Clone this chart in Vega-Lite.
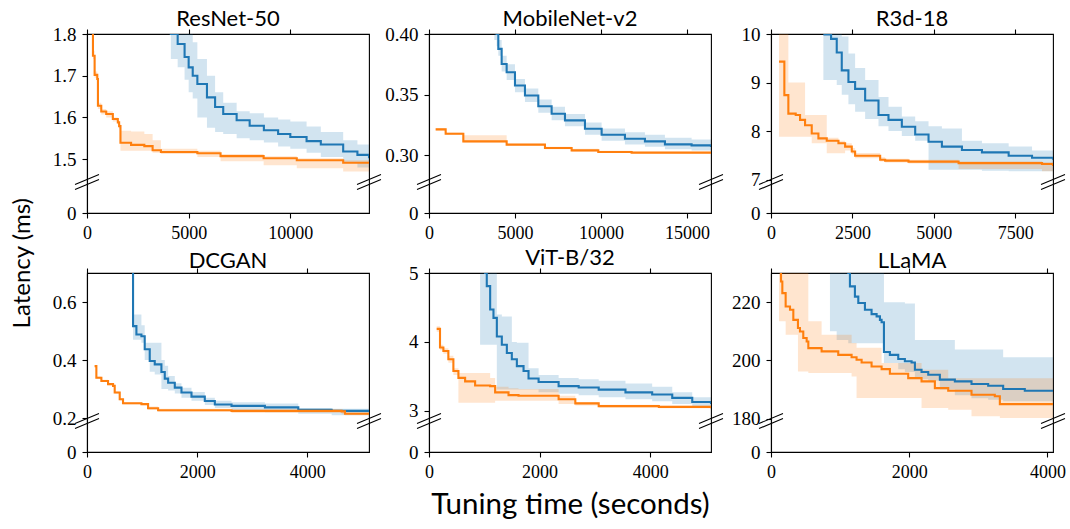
{
  "$schema": "https://vega.github.io/schema/vega-lite/v6.json",
  "background": "white",
  "padding": {"left": 10, "top": 7, "right": 5, "bottom": 5},
  "bounds": "flush",
  "columns": 3,
  "spacing": {"row": 60, "column": 60},
  "title": {"text": "Latency (ms)", "orient": "left", "anchor": "middle", "fontSize": 24, "font": "Lato", "fontWeight": "normal", "offset": 17},
  "concat": [
    {
      "title": "ResNet-50",
      "width": 282, "height": 179,
      "data": {"values": [
        {"s":"A","x":3716,"y":1.95,"lo":1.80,"hi":2.0},
        {"s":"A","x":4124,"y":1.80,"lo":1.74,"hi":1.90},
        {"s":"A","x":4460,"y":1.776,"lo":1.72,"hi":1.85},
        {"s":"A","x":4800,"y":1.745,"lo":1.69,"hi":1.83},
        {"s":"A","x":5000,"y":1.72,"lo":1.66,"hi":1.80},
        {"s":"A","x":5200,"y":1.70,"lo":1.645,"hi":1.78},
        {"s":"A","x":5428,"y":1.68,"lo":1.60,"hi":1.74},
        {"s":"A","x":5900,"y":1.648,"lo":1.575,"hi":1.70},
        {"s":"A","x":6300,"y":1.625,"lo":1.565,"hi":1.66},
        {"s":"A","x":6700,"y":1.608,"lo":1.56,"hi":1.635},
        {"s":"A","x":7360,"y":1.593,"lo":1.55,"hi":1.615},
        {"s":"A","x":8000,"y":1.58,"lo":1.545,"hi":1.61},
        {"s":"A","x":8700,"y":1.569,"lo":1.54,"hi":1.60},
        {"s":"A","x":9400,"y":1.56,"lo":1.53,"hi":1.595},
        {"s":"A","x":10000,"y":1.553,"lo":1.525,"hi":1.59},
        {"s":"A","x":10800,"y":1.543,"lo":1.515,"hi":1.578},
        {"s":"A","x":11500,"y":1.535,"lo":1.505,"hi":1.565},
        {"s":"A","x":12600,"y":1.518,"lo":1.49,"hi":1.545},
        {"s":"A","x":13300,"y":1.51,"lo":1.48,"hi":1.535},
        {"s":"A","x":13870,"y":1.502,"lo":1.47,"hi":1.53},
        {"s":"B","x":200,"y":1.85,"lo":1.80,"hi":1.90},
        {"s":"B","x":293,"y":1.748,"lo":1.74,"hi":1.76},
        {"s":"B","x":375,"y":1.702,"lo":1.695,"hi":1.71},
        {"s":"B","x":505,"y":1.692,"lo":1.685,"hi":1.70},
        {"s":"B","x":538,"y":1.628,"lo":1.62,"hi":1.635},
        {"s":"B","x":701,"y":1.614,"lo":1.607,"hi":1.62},
        {"s":"B","x":945,"y":1.608,"lo":1.60,"hi":1.615},
        {"s":"B","x":1271,"y":1.596,"lo":1.59,"hi":1.60},
        {"s":"B","x":1516,"y":1.588,"lo":1.582,"hi":1.593},
        {"s":"B","x":1580,"y":1.579,"lo":1.573,"hi":1.585},
        {"s":"B","x":1646,"y":1.539,"lo":1.52,"hi":1.568},
        {"s":"B","x":2168,"y":1.534,"lo":1.52,"hi":1.566},
        {"s":"B","x":2820,"y":1.531,"lo":1.52,"hi":1.56},
        {"s":"B","x":3227,"y":1.521,"lo":1.515,"hi":1.545},
        {"s":"B","x":3635,"y":1.517,"lo":1.512,"hi":1.525},
        {"s":"B","x":5428,"y":1.514,"lo":1.505,"hi":1.52},
        {"s":"B","x":6569,"y":1.507,"lo":1.495,"hi":1.512},
        {"s":"B","x":8688,"y":1.502,"lo":1.485,"hi":1.507},
        {"s":"B","x":10318,"y":1.497,"lo":1.478,"hi":1.502},
        {"s":"B","x":12600,"y":1.491,"lo":1.47,"hi":1.497},
        {"s":"B","x":13870,"y":1.491,"lo":1.47,"hi":1.497}
      ]},
      "resolve": {"axis": {"x": "independent"}},
      "layer": [
        {"mark": {"type": "area", "interpolate": "step-after", "opacity": 0.2, "clip": true},
         "encoding": {
           "x": {"field": "x", "type": "quantitative", "scale": {"domain": [0, 13870], "nice": false, "zero": false}, "axis": null},
           "y": {"field": "lo", "type": "quantitative", "stack": null, "scale": {"domain": [0, 1.445, 1.8], "range": [179, 148, 0], "nice": false, "zero": false}, "axis": {"values": [0, 1.5, 1.6, 1.7, 1.8], "labelExpr": "datum.value == 0 ? '0' : format(datum.value, '.1f')", "title": null}},
           "y2": {"field": "hi"},
           "color": {"field": "s", "type": "nominal", "scale": {"domain": ["A", "B"], "range": ["#1f77b4", "#ff7f0e"]}, "legend": null}}},
        {"mark": {"type": "line", "interpolate": "step-after", "strokeWidth": 2.1, "clip": true},
         "encoding": {
           "x": {"field": "x", "type": "quantitative", "scale": {"domain": [0, 13870], "nice": false, "zero": false}, "axis": {"orient": "bottom", "values": [0, 5000, 10000], "format": "d", "title": null}},
           "y": {"field": "y", "type": "quantitative", "scale": {"domain": [0, 1.445, 1.8], "range": [179, 148, 0], "nice": false, "zero": false}, "axis": {"values": [0, 1.5, 1.6, 1.7, 1.8], "labelExpr": "datum.value == 0 ? '0' : format(datum.value, '.1f')", "title": null}},
           "color": {"field": "s", "type": "nominal", "scale": {"domain": ["A", "B"], "range": ["#1f77b4", "#ff7f0e"]}, "legend": null}}},
        {"data": {"values": [{"x": 0, "y": 1.445}, {"x": 13870, "y": 1.445}]},
         "mark": {"type": "point", "shape": "M-1,0.21L1,-0.63M-1,0.63L1,-0.21", "size": 576, "filled": false, "color": "black", "strokeWidth": 1.1, "opacity": 1, "clip": false},
         "encoding": {
           "x": {"field": "x", "type": "quantitative", "scale": {"domain": [0, 13870], "nice": false, "zero": false}, "axis": {"orient": "top", "values": [0, 5000, 10000], "labels": false, "domain": false, "title": null}},
           "y": {"field": "y", "type": "quantitative", "scale": {"domain": [0, 1.445, 1.8], "range": [179, 148, 0], "nice": false, "zero": false}, "axis": {"values": [0, 1.5, 1.6, 1.7, 1.8], "labelExpr": "datum.value == 0 ? '0' : format(datum.value, '.1f')", "title": null}}}}
      ]
    },
    {
      "title": "MobileNet-v2",
      "width": 282, "height": 179,
      "data": {"values": [
        {"s":"A","x":3800,"y":0.42,"lo":0.395,"hi":0.44},
        {"s":"A","x":3934,"y":0.40,"lo":0.39,"hi":0.42},
        {"s":"A","x":4031,"y":0.3877,"lo":0.382,"hi":0.395},
        {"s":"A","x":4225,"y":0.3753,"lo":0.369,"hi":0.382},
        {"s":"A","x":4516,"y":0.3685,"lo":0.362,"hi":0.375},
        {"s":"A","x":5000,"y":0.3575,"lo":0.352,"hi":0.363},
        {"s":"A","x":5581,"y":0.3493,"lo":0.344,"hi":0.355},
        {"s":"A","x":6357,"y":0.3405,"lo":0.335,"hi":0.346},
        {"s":"A","x":7132,"y":0.3342,"lo":0.329,"hi":0.340},
        {"s":"A","x":7907,"y":0.3288,"lo":0.324,"hi":0.334},
        {"s":"A","x":9070,"y":0.3219,"lo":0.317,"hi":0.327},
        {"s":"A","x":10039,"y":0.317,"lo":0.312,"hi":0.322},
        {"s":"A","x":11395,"y":0.3137,"lo":0.309,"hi":0.319},
        {"s":"A","x":12558,"y":0.3115,"lo":0.307,"hi":0.317},
        {"s":"A","x":13721,"y":0.309,"lo":0.305,"hi":0.3145},
        {"s":"A","x":15271,"y":0.3082,"lo":0.304,"hi":0.313},
        {"s":"A","x":16400,"y":0.3068,"lo":0.303,"hi":0.312},
        {"s":"B","x":388,"y":0.3214,"lo":0.3205,"hi":0.3225},
        {"s":"B","x":969,"y":0.3178,"lo":0.317,"hi":0.3188},
        {"s":"B","x":1996,"y":0.3115,"lo":0.3105,"hi":0.3165},
        {"s":"B","x":4516,"y":0.3088,"lo":0.308,"hi":0.3095},
        {"s":"B","x":6745,"y":0.306,"lo":0.305,"hi":0.307},
        {"s":"B","x":8295,"y":0.3041,"lo":0.303,"hi":0.3055},
        {"s":"B","x":9845,"y":0.3027,"lo":0.302,"hi":0.3038},
        {"s":"B","x":11783,"y":0.3022,"lo":0.3015,"hi":0.303},
        {"s":"B","x":16400,"y":0.3022,"lo":0.3015,"hi":0.303}
      ]},
      "resolve": {"axis": {"x": "independent"}},
      "layer": [
        {"mark": {"type": "area", "interpolate": "step-after", "opacity": 0.2, "clip": true},
         "encoding": {
           "x": {"field": "x", "type": "quantitative", "scale": {"domain": [0, 16400], "nice": false, "zero": false}, "axis": null},
           "y": {"field": "lo", "type": "quantitative", "stack": null, "scale": {"domain": [0, 0.278, 0.4], "range": [179, 148, 0], "nice": false, "zero": false}, "axis": {"values": [0, 0.3, 0.35, 0.4], "labelExpr": "datum.value == 0 ? '0' : format(datum.value, '.2f')", "title": null}},
           "y2": {"field": "hi"},
           "color": {"field": "s", "type": "nominal", "scale": {"domain": ["A", "B"], "range": ["#1f77b4", "#ff7f0e"]}, "legend": null}}},
        {"mark": {"type": "line", "interpolate": "step-after", "strokeWidth": 2.1, "clip": true},
         "encoding": {
           "x": {"field": "x", "type": "quantitative", "scale": {"domain": [0, 16400], "nice": false, "zero": false}, "axis": {"orient": "bottom", "values": [0, 5000, 10000, 15000], "format": "d", "title": null}},
           "y": {"field": "y", "type": "quantitative", "scale": {"domain": [0, 0.278, 0.4], "range": [179, 148, 0], "nice": false, "zero": false}, "axis": {"values": [0, 0.3, 0.35, 0.4], "labelExpr": "datum.value == 0 ? '0' : format(datum.value, '.2f')", "title": null}},
           "color": {"field": "s", "type": "nominal", "scale": {"domain": ["A", "B"], "range": ["#1f77b4", "#ff7f0e"]}, "legend": null}}},
        {"data": {"values": [{"x": 0, "y": 0.278}, {"x": 16400, "y": 0.278}]},
         "mark": {"type": "point", "shape": "M-1,0.21L1,-0.63M-1,0.63L1,-0.21", "size": 576, "filled": false, "color": "black", "strokeWidth": 1.1, "opacity": 1, "clip": false},
         "encoding": {
           "x": {"field": "x", "type": "quantitative", "scale": {"domain": [0, 16400], "nice": false, "zero": false}, "axis": {"orient": "top", "values": [0, 5000, 10000, 15000], "labels": false, "domain": false, "title": null}},
           "y": {"field": "y", "type": "quantitative", "scale": {"domain": [0, 0.278, 0.4], "range": [179, 148, 0], "nice": false, "zero": false}, "axis": {"values": [0, 0.3, 0.35, 0.4], "labelExpr": "datum.value == 0 ? '0' : format(datum.value, '.2f')", "title": null}}}}
      ]
    },
    {
      "title": "R3d-18",
      "width": 282, "height": 179,
      "data": {"values": [
        {"s":"A","x":1609,"y":9.99,"lo":9.05,"hi":10.5},
        {"s":"A","x":1845,"y":9.90,"lo":9.05,"hi":10.3},
        {"s":"A","x":2019,"y":9.62,"lo":8.95,"hi":10.1},
        {"s":"A","x":2173,"y":9.25,"lo":8.75,"hi":9.95},
        {"s":"A","x":2378,"y":9.01,"lo":8.55,"hi":9.6},
        {"s":"A","x":2583,"y":8.87,"lo":8.4,"hi":9.3},
        {"s":"A","x":2891,"y":8.63,"lo":8.25,"hi":9.05},
        {"s":"A","x":3301,"y":8.33,"lo":8.1,"hi":8.7},
        {"s":"A","x":3608,"y":8.23,"lo":8.0,"hi":8.5},
        {"s":"A","x":4018,"y":8.09,"lo":7.9,"hi":8.3},
        {"s":"A","x":4428,"y":7.93,"lo":7.8,"hi":8.2},
        {"s":"A","x":4838,"y":7.78,"lo":7.2,"hi":8.1},
        {"s":"A","x":5248,"y":7.68,"lo":7.2,"hi":8.05},
        {"s":"A","x":5863,"y":7.61,"lo":7.2,"hi":7.8},
        {"s":"A","x":6478,"y":7.56,"lo":7.18,"hi":7.75},
        {"s":"A","x":7298,"y":7.49,"lo":7.17,"hi":7.68},
        {"s":"A","x":8016,"y":7.45,"lo":7.17,"hi":7.6},
        {"s":"A","x":8660,"y":7.41,"lo":7.17,"hi":7.5},
        {"s":"B","x":246,"y":9.43,"lo":7.88,"hi":10.5},
        {"s":"B","x":410,"y":8.74,"lo":7.88,"hi":10.5},
        {"s":"B","x":533,"y":8.36,"lo":7.88,"hi":9.0},
        {"s":"B","x":759,"y":8.33,"lo":7.88,"hi":9.0},
        {"s":"B","x":892,"y":8.23,"lo":7.88,"hi":9.0},
        {"s":"B","x":1046,"y":8.12,"lo":7.88,"hi":8.33},
        {"s":"B","x":1251,"y":7.95,"lo":7.75,"hi":8.33},
        {"s":"B","x":1456,"y":7.85,"lo":7.75,"hi":8.33},
        {"s":"B","x":1712,"y":7.80,"lo":7.54,"hi":7.86},
        {"s":"B","x":2071,"y":7.75,"lo":7.54,"hi":7.80},
        {"s":"B","x":2276,"y":7.68,"lo":7.6,"hi":7.75},
        {"s":"B","x":2481,"y":7.58,"lo":7.52,"hi":7.65},
        {"s":"B","x":2583,"y":7.49,"lo":7.44,"hi":7.55},
        {"s":"B","x":3352,"y":7.41,"lo":7.37,"hi":7.46},
        {"s":"B","x":3506,"y":7.39,"lo":7.35,"hi":7.43},
        {"s":"B","x":4223,"y":7.37,"lo":7.33,"hi":7.41},
        {"s":"B","x":5761,"y":7.34,"lo":7.22,"hi":7.38},
        {"s":"B","x":8323,"y":7.32,"lo":7.17,"hi":7.36},
        {"s":"B","x":8660,"y":7.28,"lo":7.17,"hi":7.34}
      ]},
      "resolve": {"axis": {"x": "independent"}},
      "layer": [
        {"mark": {"type": "area", "interpolate": "step-after", "opacity": 0.2, "clip": true},
         "encoding": {
           "x": {"field": "x", "type": "quantitative", "scale": {"domain": [0, 8660], "nice": false, "zero": false}, "axis": null},
           "y": {"field": "lo", "type": "quantitative", "stack": null, "scale": {"domain": [0, 6.95, 10], "range": [179, 148, 0], "nice": false, "zero": false}, "axis": {"values": [0, 7, 8, 9, 10], "format": "d", "title": null}},
           "y2": {"field": "hi"},
           "color": {"field": "s", "type": "nominal", "scale": {"domain": ["A", "B"], "range": ["#1f77b4", "#ff7f0e"]}, "legend": null}}},
        {"mark": {"type": "line", "interpolate": "step-after", "strokeWidth": 2.1, "clip": true},
         "encoding": {
           "x": {"field": "x", "type": "quantitative", "scale": {"domain": [0, 8660], "nice": false, "zero": false}, "axis": {"orient": "bottom", "values": [0, 2500, 5000, 7500], "format": "d", "title": null}},
           "y": {"field": "y", "type": "quantitative", "scale": {"domain": [0, 6.95, 10], "range": [179, 148, 0], "nice": false, "zero": false}, "axis": {"values": [0, 7, 8, 9, 10], "format": "d", "title": null}},
           "color": {"field": "s", "type": "nominal", "scale": {"domain": ["A", "B"], "range": ["#1f77b4", "#ff7f0e"]}, "legend": null}}},
        {"data": {"values": [{"x": 0, "y": 6.95}, {"x": 8660, "y": 6.95}]},
         "mark": {"type": "point", "shape": "M-1,0.21L1,-0.63M-1,0.63L1,-0.21", "size": 576, "filled": false, "color": "black", "strokeWidth": 1.1, "opacity": 1, "clip": false},
         "encoding": {
           "x": {"field": "x", "type": "quantitative", "scale": {"domain": [0, 8660], "nice": false, "zero": false}, "axis": {"orient": "top", "values": [0, 2500, 5000, 7500], "labels": false, "domain": false, "title": null}},
           "y": {"field": "y", "type": "quantitative", "scale": {"domain": [0, 6.95, 10], "range": [179, 148, 0], "nice": false, "zero": false}, "axis": {"values": [0, 7, 8, 9, 10], "format": "d", "title": null}}}}
      ]
    },
    {
      "title": "DCGAN",
      "width": 282, "height": 179,
      "data": {"values": [
        {"s":"A","x":830,"y":0.75,"lo":0.75,"hi":0.75},
        {"s":"A","x":836,"y":0.517,"lo":0.47,"hi":0.557},
        {"s":"A","x":897,"y":0.488,"lo":0.47,"hi":0.557},
        {"s":"A","x":988,"y":0.482,"lo":0.46,"hi":0.52},
        {"s":"A","x":1048,"y":0.437,"lo":0.40,"hi":0.46},
        {"s":"A","x":1139,"y":0.397,"lo":0.36,"hi":0.46},
        {"s":"A","x":1230,"y":0.385,"lo":0.35,"hi":0.46},
        {"s":"A","x":1351,"y":0.359,"lo":0.30,"hi":0.40},
        {"s":"A","x":1412,"y":0.336,"lo":0.30,"hi":0.38},
        {"s":"A","x":1473,"y":0.322,"lo":0.295,"hi":0.345},
        {"s":"A","x":1594,"y":0.305,"lo":0.285,"hi":0.32},
        {"s":"A","x":1715,"y":0.288,"lo":0.27,"hi":0.305},
        {"s":"A","x":1897,"y":0.274,"lo":0.26,"hi":0.29},
        {"s":"A","x":2139,"y":0.259,"lo":0.245,"hi":0.27},
        {"s":"A","x":2321,"y":0.247,"lo":0.235,"hi":0.26},
        {"s":"A","x":2624,"y":0.242,"lo":0.225,"hi":0.255},
        {"s":"A","x":3230,"y":0.237,"lo":0.22,"hi":0.25},
        {"s":"A","x":3836,"y":0.229,"lo":0.215,"hi":0.235},
        {"s":"A","x":4442,"y":0.225,"lo":0.21,"hi":0.232},
        {"s":"A","x":5120,"y":0.222,"lo":0.21,"hi":0.23},
        {"s":"B","x":139,"y":0.379,"lo":0.375,"hi":0.383},
        {"s":"B","x":170,"y":0.339,"lo":0.335,"hi":0.343},
        {"s":"B","x":261,"y":0.328,"lo":0.324,"hi":0.332},
        {"s":"B","x":382,"y":0.317,"lo":0.313,"hi":0.321},
        {"s":"B","x":473,"y":0.311,"lo":0.307,"hi":0.315},
        {"s":"B","x":503,"y":0.288,"lo":0.284,"hi":0.292},
        {"s":"B","x":594,"y":0.265,"lo":0.261,"hi":0.269},
        {"s":"B","x":654,"y":0.251,"lo":0.247,"hi":0.255},
        {"s":"B","x":988,"y":0.248,"lo":0.244,"hi":0.252},
        {"s":"B","x":1109,"y":0.234,"lo":0.229,"hi":0.24},
        {"s":"B","x":1291,"y":0.227,"lo":0.222,"hi":0.232},
        {"s":"B","x":2624,"y":0.225,"lo":0.218,"hi":0.23},
        {"s":"B","x":4624,"y":0.223,"lo":0.213,"hi":0.227},
        {"s":"B","x":4684,"y":0.215,"lo":0.21,"hi":0.22},
        {"s":"B","x":5120,"y":0.215,"lo":0.21,"hi":0.22}
      ]},
      "resolve": {"axis": {"x": "independent"}},
      "layer": [
        {"mark": {"type": "area", "interpolate": "step-after", "opacity": 0.2, "clip": true},
         "encoding": {
           "x": {"field": "x", "type": "quantitative", "scale": {"domain": [0, 5120], "nice": false, "zero": false}, "axis": null},
           "y": {"field": "lo", "type": "quantitative", "stack": null, "scale": {"domain": [0, 0.19, 0.7], "range": [179, 148, 0], "nice": false, "zero": false}, "axis": {"values": [0, 0.2, 0.4, 0.6], "labelExpr": "datum.value == 0 ? '0' : format(datum.value, '.1f')", "title": null}},
           "y2": {"field": "hi"},
           "color": {"field": "s", "type": "nominal", "scale": {"domain": ["A", "B"], "range": ["#1f77b4", "#ff7f0e"]}, "legend": null}}},
        {"mark": {"type": "line", "interpolate": "step-after", "strokeWidth": 2.1, "clip": true},
         "encoding": {
           "x": {"field": "x", "type": "quantitative", "scale": {"domain": [0, 5120], "nice": false, "zero": false}, "axis": {"orient": "bottom", "values": [0, 2000, 4000], "format": "d", "title": null}},
           "y": {"field": "y", "type": "quantitative", "scale": {"domain": [0, 0.19, 0.7], "range": [179, 148, 0], "nice": false, "zero": false}, "axis": {"values": [0, 0.2, 0.4, 0.6], "labelExpr": "datum.value == 0 ? '0' : format(datum.value, '.1f')", "title": null}},
           "color": {"field": "s", "type": "nominal", "scale": {"domain": ["A", "B"], "range": ["#1f77b4", "#ff7f0e"]}, "legend": null}}},
        {"data": {"values": [{"x": 0, "y": 0.19}, {"x": 5120, "y": 0.19}]},
         "mark": {"type": "point", "shape": "M-1,0.21L1,-0.63M-1,0.63L1,-0.21", "size": 576, "filled": false, "color": "black", "strokeWidth": 1.1, "opacity": 1, "clip": false},
         "encoding": {
           "x": {"field": "x", "type": "quantitative", "scale": {"domain": [0, 5120], "nice": false, "zero": false}, "axis": {"orient": "top", "values": [0, 2000, 4000], "labels": false, "domain": false, "title": null}},
           "y": {"field": "y", "type": "quantitative", "scale": {"domain": [0, 0.19, 0.7], "range": [179, 148, 0], "nice": false, "zero": false}, "axis": {"values": [0, 0.2, 0.4, 0.6], "labelExpr": "datum.value == 0 ? '0' : format(datum.value, '.1f')", "title": null}}}}
      ]
    },
    {
      "title": "ViT-B/32",
      "width": 282, "height": 179,
      "data": {"values": [
        {"s":"A","x":924,"y":5.3,"lo":3.96,"hi":5.5},
        {"s":"A","x":1015,"y":5.0,"lo":3.96,"hi":5.5},
        {"s":"A","x":1045,"y":4.81,"lo":3.96,"hi":5.5},
        {"s":"A","x":1106,"y":4.47,"lo":3.96,"hi":5.2},
        {"s":"A","x":1166,"y":4.35,"lo":3.96,"hi":5.0},
        {"s":"A","x":1227,"y":4.08,"lo":3.31,"hi":4.4},
        {"s":"A","x":1317,"y":3.96,"lo":3.31,"hi":4.37},
        {"s":"A","x":1408,"y":3.84,"lo":3.31,"hi":4.37},
        {"s":"A","x":1498,"y":3.75,"lo":3.31,"hi":4.0},
        {"s":"A","x":1589,"y":3.65,"lo":3.31,"hi":3.99},
        {"s":"A","x":1710,"y":3.58,"lo":3.31,"hi":3.99},
        {"s":"A","x":1800,"y":3.47,"lo":3.31,"hi":3.62},
        {"s":"A","x":1982,"y":3.42,"lo":3.27,"hi":3.52},
        {"s":"A","x":2344,"y":3.36,"lo":3.25,"hi":3.48},
        {"s":"A","x":2707,"y":3.34,"lo":3.23,"hi":3.46},
        {"s":"A","x":3069,"y":3.31,"lo":3.2,"hi":3.44},
        {"s":"A","x":3553,"y":3.27,"lo":3.17,"hi":3.4},
        {"s":"A","x":4036,"y":3.24,"lo":3.14,"hi":3.35},
        {"s":"A","x":4399,"y":3.19,"lo":3.1,"hi":3.27},
        {"s":"A","x":4761,"y":3.13,"lo":3.05,"hi":3.2},
        {"s":"A","x":5100,"y":3.10,"lo":3.02,"hi":3.15},
        {"s":"B","x":139,"y":4.19,"lo":4.15,"hi":4.23},
        {"s":"B","x":199,"y":3.92,"lo":3.88,"hi":3.96},
        {"s":"B","x":260,"y":3.87,"lo":3.83,"hi":3.91},
        {"s":"B","x":350,"y":3.75,"lo":3.7,"hi":3.8},
        {"s":"B","x":441,"y":3.58,"lo":3.52,"hi":3.62},
        {"s":"B","x":532,"y":3.48,"lo":3.12,"hi":3.55},
        {"s":"B","x":653,"y":3.43,"lo":3.12,"hi":3.55},
        {"s":"B","x":834,"y":3.37,"lo":3.12,"hi":3.55},
        {"s":"B","x":1106,"y":3.36,"lo":3.12,"hi":3.48},
        {"s":"B","x":1196,"y":3.27,"lo":3.15,"hi":3.35},
        {"s":"B","x":1438,"y":3.23,"lo":3.15,"hi":3.33},
        {"s":"B","x":1619,"y":3.22,"lo":3.15,"hi":3.32},
        {"s":"B","x":2344,"y":3.17,"lo":3.1,"hi":3.22},
        {"s":"B","x":2646,"y":3.11,"lo":3.08,"hi":3.13},
        {"s":"B","x":3069,"y":3.07,"lo":3.05,"hi":3.09},
        {"s":"B","x":4157,"y":3.06,"lo":3.04,"hi":3.075},
        {"s":"B","x":5100,"y":3.04,"lo":3.02,"hi":3.06}
      ]},
      "resolve": {"axis": {"x": "independent"}},
      "layer": [
        {"mark": {"type": "area", "interpolate": "step-after", "opacity": 0.2, "clip": true},
         "encoding": {
           "x": {"field": "x", "type": "quantitative", "scale": {"domain": [0, 5100], "nice": false, "zero": false}, "axis": null},
           "y": {"field": "lo", "type": "quantitative", "stack": null, "scale": {"domain": [0, 2.855, 5], "range": [179, 148, 0], "nice": false, "zero": false}, "axis": {"values": [0, 3, 4, 5], "format": "d", "title": null}},
           "y2": {"field": "hi"},
           "color": {"field": "s", "type": "nominal", "scale": {"domain": ["A", "B"], "range": ["#1f77b4", "#ff7f0e"]}, "legend": null}}},
        {"mark": {"type": "line", "interpolate": "step-after", "strokeWidth": 2.1, "clip": true},
         "encoding": {
           "x": {"field": "x", "type": "quantitative", "scale": {"domain": [0, 5100], "nice": false, "zero": false}, "axis": {"orient": "bottom", "values": [0, 2000, 4000], "format": "d", "title": "Tuning time (seconds)"}},
           "y": {"field": "y", "type": "quantitative", "scale": {"domain": [0, 2.855, 5], "range": [179, 148, 0], "nice": false, "zero": false}, "axis": {"values": [0, 3, 4, 5], "format": "d", "title": null}},
           "color": {"field": "s", "type": "nominal", "scale": {"domain": ["A", "B"], "range": ["#1f77b4", "#ff7f0e"]}, "legend": null}}},
        {"data": {"values": [{"x": 0, "y": 2.855}, {"x": 5100, "y": 2.855}]},
         "mark": {"type": "point", "shape": "M-1,0.21L1,-0.63M-1,0.63L1,-0.21", "size": 576, "filled": false, "color": "black", "strokeWidth": 1.1, "opacity": 1, "clip": false},
         "encoding": {
           "x": {"field": "x", "type": "quantitative", "scale": {"domain": [0, 5100], "nice": false, "zero": false}, "axis": {"orient": "top", "values": [0, 2000, 4000], "labels": false, "domain": false, "title": null}},
           "y": {"field": "y", "type": "quantitative", "scale": {"domain": [0, 2.855, 5], "range": [179, 148, 0], "nice": false, "zero": false}, "axis": {"values": [0, 3, 4, 5], "format": "d", "title": null}}}}
      ]
    },
    {
      "title": "LLaMA",
      "width": 282, "height": 179,
      "data": {"values": [
        {"s":"A","x":853,"y":240,"lo":210,"hi":250},
        {"s":"A","x":950,"y":240,"lo":207,"hi":250},
        {"s":"A","x":1118,"y":230,"lo":205.9,"hi":250},
        {"s":"A","x":1142,"y":225.4,"lo":205.9,"hi":250},
        {"s":"A","x":1214,"y":221.9,"lo":205.9,"hi":250},
        {"s":"A","x":1263,"y":219.7,"lo":205.9,"hi":250},
        {"s":"A","x":1359,"y":217.4,"lo":205.9,"hi":250},
        {"s":"A","x":1455,"y":215.9,"lo":205.9,"hi":250},
        {"s":"A","x":1528,"y":215.1,"lo":205.9,"hi":250},
        {"s":"A","x":1576,"y":213.9,"lo":205.9,"hi":250},
        {"s":"A","x":1600,"y":213.1,"lo":205.9,"hi":250},
        {"s":"A","x":1634,"y":202.9,"lo":199.1,"hi":220},
        {"s":"A","x":1720,"y":201.9,"lo":199.1,"hi":220},
        {"s":"A","x":1841,"y":200.5,"lo":197,"hi":220},
        {"s":"A","x":1937,"y":199.7,"lo":196,"hi":219.5},
        {"s":"A","x":2034,"y":199.3,"lo":196,"hi":219.5},
        {"s":"A","x":2082,"y":196.8,"lo":194,"hi":207},
        {"s":"A","x":2178,"y":196,"lo":193.5,"hi":207},
        {"s":"A","x":2275,"y":195.1,"lo":193,"hi":207},
        {"s":"A","x":2443,"y":193.4,"lo":190,"hi":207},
        {"s":"A","x":2660,"y":192.8,"lo":188,"hi":203.7},
        {"s":"A","x":2901,"y":191.9,"lo":187,"hi":203.7},
        {"s":"A","x":3142,"y":191.3,"lo":186.5,"hi":203.7},
        {"s":"A","x":3359,"y":190.2,"lo":186,"hi":201.1},
        {"s":"A","x":3672,"y":189.6,"lo":186,"hi":201.1},
        {"s":"A","x":4080,"y":189.4,"lo":186,"hi":201.1},
        {"s":"B","x":116,"y":232,"lo":213.4,"hi":240},
        {"s":"B","x":145,"y":227.1,"lo":213.4,"hi":240},
        {"s":"B","x":164,"y":223.1,"lo":213.4,"hi":240},
        {"s":"B","x":212,"y":218.5,"lo":208.8,"hi":240},
        {"s":"B","x":275,"y":217.4,"lo":208.8,"hi":240},
        {"s":"B","x":323,"y":213.9,"lo":208.8,"hi":240},
        {"s":"B","x":390,"y":211.1,"lo":196.2,"hi":240},
        {"s":"B","x":419,"y":209.9,"lo":196.2,"hi":240},
        {"s":"B","x":467,"y":207.7,"lo":196.2,"hi":240},
        {"s":"B","x":516,"y":206.5,"lo":196.2,"hi":240},
        {"s":"B","x":540,"y":204.2,"lo":195.7,"hi":213.4},
        {"s":"B","x":732,"y":203.1,"lo":195.7,"hi":208.8},
        {"s":"B","x":973,"y":201.9,"lo":195.7,"hi":208.8},
        {"s":"B","x":1166,"y":201.1,"lo":194.5,"hi":206.0},
        {"s":"B","x":1238,"y":200.2,"lo":187.1,"hi":204.3},
        {"s":"B","x":1311,"y":199.3,"lo":187.1,"hi":204.3},
        {"s":"B","x":1455,"y":197.9,"lo":187.1,"hi":204.3},
        {"s":"B","x":1600,"y":197,"lo":187.1,"hi":199.1},
        {"s":"B","x":1720,"y":195.4,"lo":187.1,"hi":199.1},
        {"s":"B","x":1985,"y":193.9,"lo":187.1,"hi":199.1},
        {"s":"B","x":2178,"y":192.8,"lo":183.7,"hi":196.8},
        {"s":"B","x":2371,"y":190.5,"lo":183.7,"hi":196.8},
        {"s":"B","x":2564,"y":189.6,"lo":183.1,"hi":193.9},
        {"s":"B","x":2901,"y":188.2,"lo":180.8,"hi":193.9},
        {"s":"B","x":3238,"y":187.7,"lo":180.8,"hi":193.9},
        {"s":"B","x":3311,"y":185,"lo":180.2,"hi":193.9},
        {"s":"B","x":4080,"y":184.8,"lo":180.2,"hi":193.9}
      ]},
      "resolve": {"axis": {"x": "independent"}},
      "layer": [
        {"mark": {"type": "area", "interpolate": "step-after", "opacity": 0.2, "clip": true},
         "encoding": {
           "x": {"field": "x", "type": "quantitative", "scale": {"domain": [0, 4080], "nice": false, "zero": false}, "axis": null},
           "y": {"field": "lo", "type": "quantitative", "stack": null, "scale": {"domain": [0, 179.2, 230], "range": [179, 148, 0], "nice": false, "zero": false}, "axis": {"values": [0, 180, 200, 220], "format": "d", "title": null}},
           "y2": {"field": "hi"},
           "color": {"field": "s", "type": "nominal", "scale": {"domain": ["A", "B"], "range": ["#1f77b4", "#ff7f0e"]}, "legend": null}}},
        {"mark": {"type": "line", "interpolate": "step-after", "strokeWidth": 2.1, "clip": true},
         "encoding": {
           "x": {"field": "x", "type": "quantitative", "scale": {"domain": [0, 4080], "nice": false, "zero": false}, "axis": {"orient": "bottom", "values": [0, 2000, 4000], "format": "d", "title": null}},
           "y": {"field": "y", "type": "quantitative", "scale": {"domain": [0, 179.2, 230], "range": [179, 148, 0], "nice": false, "zero": false}, "axis": {"values": [0, 180, 200, 220], "format": "d", "title": null}},
           "color": {"field": "s", "type": "nominal", "scale": {"domain": ["A", "B"], "range": ["#1f77b4", "#ff7f0e"]}, "legend": null}}},
        {"data": {"values": [{"x": 0, "y": 179.2}, {"x": 4080, "y": 179.2}]},
         "mark": {"type": "point", "shape": "M-1,0.21L1,-0.63M-1,0.63L1,-0.21", "size": 576, "filled": false, "color": "black", "strokeWidth": 1.1, "opacity": 1, "clip": false},
         "encoding": {
           "x": {"field": "x", "type": "quantitative", "scale": {"domain": [0, 4080], "nice": false, "zero": false}, "axis": {"orient": "top", "values": [0, 2000, 4000], "labels": false, "domain": false, "title": null}},
           "y": {"field": "y", "type": "quantitative", "scale": {"domain": [0, 179.2, 230], "range": [179, 148, 0], "nice": false, "zero": false}, "axis": {"values": [0, 180, 200, 220], "format": "d", "title": null}}}}
      ]
    }
  ],
  "config": {
    "view": {"stroke": "black", "strokeWidth": 1.1},
    "axis": {"grid": false, "domainColor": "black", "domainWidth": 1.1, "tickColor": "black", "tickWidth": 1.1, "tickSize": 5, "labelFont": "Liberation Serif", "labelFontSize": 19, "labelColor": "black", "labelFlush": false, "labelOverlap": false, "titleFont": "Lato", "titleFontSize": 29.5, "titleFontWeight": "normal", "titleColor": "black", "titlePadding": 9},
    "axisX": {"labelPadding": 6, "labelFontSize": 18, "labelFont": "Liberation Serif"},
    "axisY": {"labelPadding": 6, "labelFont": "Liberation Serif"},
    "title": {"font": "Lato", "fontSize": 22, "fontWeight": "normal", "color": "black", "offset": -6}
  }
}
